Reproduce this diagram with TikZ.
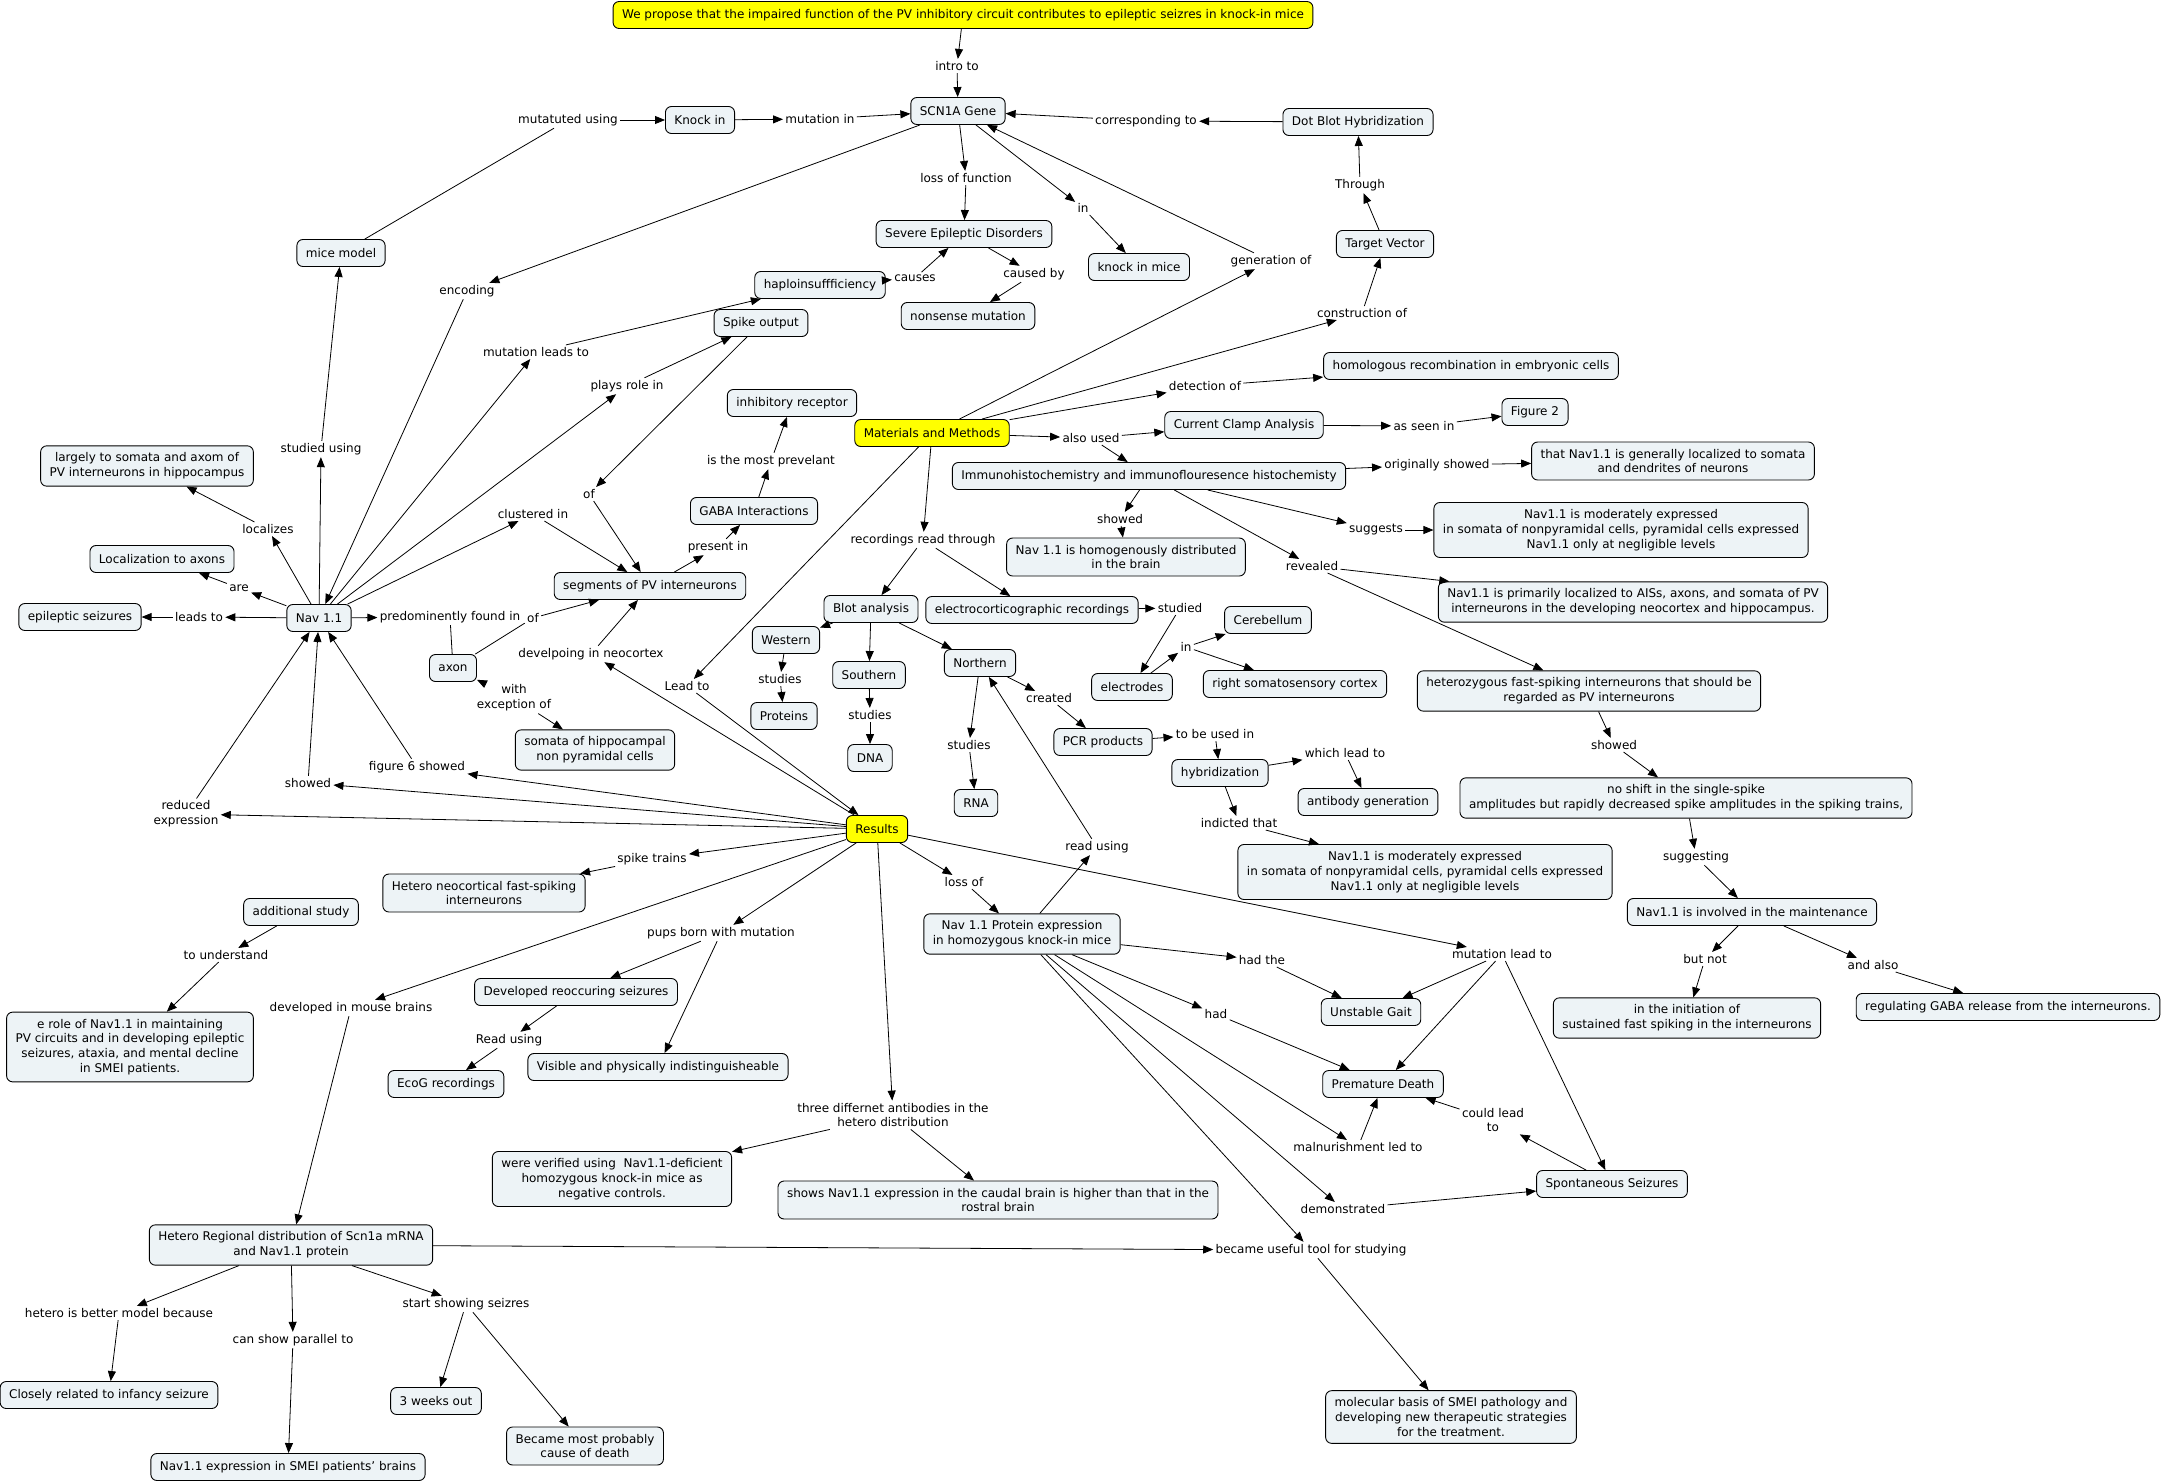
\documentclass[tikz,border=0pt]{standalone}
\usepackage{fontspec}
\setmainfont{DejaVu Sans}
\usetikzlibrary{arrows.meta}
\definecolor{cfill}{RGB}{237,243,246}
\definecolor{hlyel}{RGB}{255,255,0}

\begin{document}
\begin{tikzpicture}[x=1pt,y=-1pt,line width=0.8pt,
    font=\fontsize{12}{14.7}\selectfont,
    >={Triangle[length=10pt,width=8pt]},
    cpt/.style={draw,line width=0.9pt,rounded corners=6pt,fill=cfill,align=center,inner xsep=9pt,inner ysep=7pt,minimum height=27pt},
    hl/.style={cpt,fill=hlyel},
    lk/.style={inner sep=2pt,align=center}]
  \useasboundingbox (0,0) rectangle (2162,1483);
  % concepts
  \node[hl] (Title) at (963,15) {We propose that the impaired function of the PV inhibitory circuit contributes to epileptic seizres in knock-in mice};
  \node[cpt] (Scn) at (958,111) {SCN1A Gene};
  \node[cpt] (Knock) at (700,120) {Knock in};
  \node[cpt] (Mice) at (341,253) {mice model};
  \node[cpt] (Sev) at (964,234) {Severe Epileptic Disorders};
  \node[cpt] (Haplo) at (820,285) {haploinsuffficiency};
  \node[cpt] (Nons) at (968,316) {nonsense mutation};
  \node[cpt] (Spike) at (761,323) {Spike output};
  \node[cpt] (KiMice) at (1139,267) {knock in mice};
  \node[cpt] (Dot) at (1358,122) {Dot Blot Hybridization};
  \node[cpt] (Target) at (1385,244) {Target Vector};
  \node[cpt] (Homol) at (1471,366) {homologous recombination in embryonic cells};
  \node[cpt] (Fig2) at (1535,412) {Figure 2};
  \node[cpt] (Clamp) at (1244,425) {Current Clamp Analysis};
  \node[hl] (MM) at (932,433) {Materials and Methods};
  \node[cpt] (Inhib) at (792,403) {inhibitory receptor};
  \node[cpt] (Largely) at (147,466) {largely to somata and axom of\\PV interneurons in hippocampus};
  \node[cpt] (Immuno) at (1149,476) {Immunohistochemistry and immunoflouresence histochemisty};
  \node[cpt] (General) at (1673,461) {that Nav1.1 is generally localized to somata\\and dendrites of neurons};
  \node[cpt] (ModUp) at (1621,530) {Nav1.1 is moderately expressed\\in somata of nonpyramidal cells, pyramidal cells expressed\\Nav1.1 only at negligible levels};
  \node[cpt] (Homog) at (1126,557) {Nav 1.1 is homogenously distributed\\in the brain};
  \node[cpt] (Prim) at (1633,602) {Nav1.1 is primarily localized to AISs, axons, and somata of PV\\interneurons in the developing neocortex and hippocampus.};
  \node[cpt] (GABA) at (754,511) {GABA Interactions};
  \node[cpt] (Segm) at (650,586) {segments of PV interneurons};
  \node[cpt] (LocAx) at (162,559) {Localization to axons};
  \node[cpt] (EpSz) at (80,617) {epileptic seizures};
  \node[cpt] (Nav) at (319,618) {Nav 1.1};
  \node[cpt] (Blot) at (871,609) {Blot analysis};
  \node[cpt] (Ecr) at (1032,610) {electrocorticographic recordings};
  \node[cpt] (Cereb) at (1268,620) {Cerebellum};
  \node[cpt] (Western) at (786,640) {Western};
  \node[cpt] (Northern) at (980,663) {Northern};
  \node[cpt] (Southern) at (869,675) {Southern};
  \node[cpt] (Axon) at (453,668) {axon};
  \node[cpt] (Rsc) at (1295,684) {right somatosensory cortex};
  \node[cpt] (Electr) at (1132,687) {electrodes};
  \node[cpt] (Hetfs) at (1589,691) {heterozygous fast-spiking interneurons that should be\\regarded as PV interneurons};
  \node[cpt] (Prot) at (784,716) {Proteins};
  \node[cpt] (PCR) at (1103,742) {PCR products};
  \node[cpt] (SomH) at (595,750) {somata of hippocampal\\non pyramidal cells};
  \node[cpt] (DNA) at (870,758) {DNA};
  \node[cpt] (Hybr) at (1220,773) {hybridization};
  \node[cpt] (NoShift) at (1686,798) {no shift in the single-spike\\amplitudes but rapidly decreased spike amplitudes in the spiking trains,};
  \node[cpt] (RNA) at (976,803) {RNA};
  \node[cpt] (Antib) at (1368,802) {antibody generation};
  \node[hl] (Res) at (877,829) {Results};
  \node[cpt] (ModLo) at (1425,872) {Nav1.1 is moderately expressed\\in somata of nonpyramidal cells, pyramidal cells expressed\\Nav1.1 only at negligible levels};
  \node[cpt] (HetNeo) at (484,893) {Hetero neocortical fast-spiking\\interneurons};
  \node[cpt] (AddSt) at (301,912) {additional study};
  \node[cpt] (NavInv) at (1752,912) {Nav1.1 is involved in the maintenance};
  \node[cpt] (NavProt) at (1022,934) {Nav 1.1 Protein expression\\in homozygous knock-in mice};
  \node[cpt] (DevSz) at (576,992) {Developed reoccuring seizures};
  \node[cpt] (Regul) at (2008,1007) {regulating GABA release from the interneurons.};
  \node[cpt] (Gait) at (1371,1012) {Unstable Gait};
  \node[cpt] (Init) at (1687,1018) {in the initiation of\\sustained fast spiking in the interneurons};
  \node[cpt] (Erole) at (130,1047) {e role of Nav1.1 in maintaining\\PV circuits and in developing epileptic\\seizures, ataxia, and mental decline\\in SMEI patients.};
  \node[cpt] (Visib) at (658,1067) {Visible and physically indistinguisheable};
  \node[cpt] (EcoG) at (446,1084) {EcoG recordings};
  \node[cpt] (Death) at (1383,1084) {Premature Death};
  \node[cpt] (Verif) at (612,1179) {were verified using\ \ Nav1.1-deficient\\homozygous knock-in mice as\\negative controls.};
  \node[cpt] (Spont) at (1612,1184) {Spontaneous Seizures};
  \node[cpt] (Caudal) at (998,1200) {shows Nav1.1 expression in the caudal brain is higher than that in the\\rostral brain};
  \node[cpt] (Region) at (291,1245) {Hetero Regional distribution of Scn1a mRNA\\and Nav1.1 protein};
  \node[cpt] (Closely) at (109,1395) {Closely related to infancy seizure};
  \node[cpt] (Weeks) at (436,1401) {3 weeks out};
  \node[cpt] (Molec) at (1451,1417) {molecular basis of SMEI pathology and\\developing new therapeutic strategies\\for the treatment.};
  \node[cpt] (Became) at (585,1446) {Became most probably\\cause of death};
  \node[cpt] (Smei) at (288,1467) {Nav1.1 expression in SMEI patients’ brains};
  % linking phrases
  \node[lk] (intro) at (957,66) {intro to};
  \node[lk] (mutusing) at (568,120) {mutatuted using};
  \node[lk] (mutin) at (820,119) {mutation in};
  \node[lk] (corr) at (1146,121) {corresponding to};
  \node[lk] (lossfn) at (966,178) {loss of function};
  \node[lk] (through) at (1360,185) {Through};
  \node[lk] (inki) at (1083,208) {in};
  \node[lk] (gen) at (1271,261) {generation of};
  \node[lk] (causes) at (915,278) {causes};
  \node[lk] (causedby) at (1034,274) {caused by};
  \node[lk] (enc) at (467,291) {encoding};
  \node[lk] (constr) at (1362,313) {construction of};
  \node[lk] (mutleads) at (536,352) {mutation leads to};
  \node[lk] (plays) at (627,386) {plays role in};
  \node[lk] (detect) at (1205,386) {detection of};
  \node[lk] (seen) at (1424,426) {as seen in};
  \node[lk] (also) at (1091,438) {also used};
  \node[lk] (studusing) at (321,449) {studied using};
  \node[lk] (prev) at (771,461) {is the most prevelant};
  \node[lk] (orig) at (1437,465) {originally showed};
  \node[lk] (ofspike) at (589,494) {of};
  \node[lk] (clust) at (533,514) {clustered in};
  \node[lk] (showim) at (1120,519) {showed};
  \node[lk] (sugg) at (1376,530) {suggests};
  \node[lk] (loc) at (268,529) {localizes};
  \node[lk] (rec) at (923,540) {recordings read through};
  \node[lk] (pres) at (718,547) {present in};
  \node[lk] (rev) at (1312,566) {revealed};
  \node[lk] (are) at (239,588) {are};
  \node[lk] (studied) at (1180,608) {studied};
  \node[lk] (leads) at (199,617) {leads to};
  \node[lk] (pred) at (450,617) {predominently found in};
  \node[lk] (ofaxon) at (533,618) {of};
  \node[lk] (inel) at (1186,647) {in};
  \node[lk] (devneo) at (591,654) {develpoing in neocortex};
  \node[lk] (studw) at (780,679) {studies};
  \node[lk] (leadto) at (687,686) {Lead to};
  \node[lk] (exc) at (514,698) {with\\exception of};
  \node[lk] (created) at (1049,698) {created};
  \node[lk] (studs) at (870,715) {studies};
  \node[lk] (tobe) at (1215,734) {to be used in};
  \node[lk] (studn) at (969,745) {studies};
  \node[lk] (showhet) at (1614,745) {showed};
  \node[lk] (which) at (1345,753) {which lead to};
  \node[lk] (fig6) at (417,767) {figure 6 showed};
  \node[lk] (showres) at (308,783) {showed};
  \node[lk] (reduced) at (186,814) {reduced\\expression};
  \node[lk] (indic) at (1239,823) {indicted that};
  \node[lk] (readnp) at (1097,847) {read using};
  \node[lk] (sugging) at (1696,857) {suggesting};
  \node[lk] (trains) at (652,859) {spike trains};
  \node[lk] (lossof) at (964,882) {loss of};
  \node[lk] (pups) at (721,933) {pups born with mutation};
  \node[lk] (mutlead) at (1502,954) {mutation lead to};
  \node[lk] (under) at (226,955) {to understand};
  \node[lk] (butnot) at (1705,959) {but not};
  \node[lk] (hadthe) at (1262,960) {had the};
  \node[lk] (andalso) at (1873,965) {and also};
  \node[lk] (devmouse) at (351,1008) {developed in mouse brains};
  \node[lk] (had) at (1216,1014) {had};
  \node[lk] (readecog) at (509,1040) {Read using};
  \node[lk] (three) at (893,1115) {three differnet antibodies in the\\hetero distribution};
  \node[lk] (could) at (1493,1120) {could lead\\to};
  \node[lk] (maln) at (1358,1147) {malnurishment led to};
  \node[lk] (demo) at (1343,1209) {demonstrated};
  \node[lk] (useful) at (1311,1250) {became useful tool for studying};
  \node[lk] (seizr) at (466,1304) {start showing seizres};
  \node[lk] (better) at (119,1313) {hetero is better model because};
  \node[lk] (paral) at (293,1340) {can show parallel to};
  % connectors
  \draw[->] (Title) -- (intro);
  \draw[->] (intro) -- (Scn);
  \draw (Mice) -- (mutusing);
  \draw[->] (mutusing) -- (Knock);
  \draw[->] (Knock) -- (mutin);
  \draw[->] (mutin) -- (Scn);
  \draw[->] (Scn) -- (enc);
  \draw[->] (enc) -- (Nav);
  \draw[->] (Scn) -- (lossfn);
  \draw[->] (lossfn) -- (Sev);
  \draw[->] (Scn) -- (inki);
  \draw[->] (inki) -- (KiMice);
  \draw[->] (MM) -- (gen);
  \draw[->] (gen) -- (Scn);
  \draw[->] (Dot) -- (corr);
  \draw[->] (corr) -- (Scn);
  \draw[->] (Target) -- (through);
  \draw[->] (through) -- (Dot);
  \draw[->] (MM) -- (constr);
  \draw[->] (constr) -- (Target);
  \draw[->] (MM) -- (detect);
  \draw[->] (detect) -- (Homol);
  \draw[->] (MM) -- (also);
  \draw[->] (also) -- (Clamp);
  \draw[->] (also) -- (Immuno);
  \draw[->] (Clamp) -- (seen);
  \draw[->] (seen) -- (Fig2);
  \draw[->] (Immuno) -- (orig);
  \draw[->] (orig) -- (General);
  \draw[->] (Immuno) -- (showim);
  \draw[->] (showim) -- (Homog);
  \draw[->] (Immuno) -- (sugg);
  \draw[->] (sugg) -- (ModUp);
  \draw[->] (Immuno) -- (rev);
  \draw[->] (rev) -- (Prim);
  \draw[->] (rev) -- (Hetfs);
  \draw[->] (Hetfs) -- (showhet);
  \draw[->] (showhet) -- (NoShift);
  \draw[->] (NoShift) -- (sugging);
  \draw[->] (sugging) -- (NavInv);
  \draw[->] (NavInv) -- (butnot);
  \draw[->] (butnot) -- (Init);
  \draw[->] (NavInv) -- (andalso);
  \draw[->] (andalso) -- (Regul);
  \draw[->] (Sev) -- (causedby);
  \draw[->] (causedby) -- (Nons);
  \draw[->] (Haplo) -- (causes);
  \draw[->] (causes) -- (Sev);
  \draw[->] (Nav) -- (mutleads);
  \draw[->] (mutleads) -- (Haplo);
  \draw[->] (Nav) -- (plays);
  \draw[->] (plays) -- (Spike);
  \draw[->] (Spike) -- (ofspike);
  \draw[->] (ofspike) -- (Segm);
  \draw[->] (GABA) -- (prev);
  \draw[->] (prev) -- (Inhib);
  \draw[->] (Segm) -- (pres);
  \draw[->] (pres) -- (GABA);
  \draw[->] (Nav) -- (clust);
  \draw[->] (clust) -- (Segm);
  \draw[->] (Nav) -- (loc);
  \draw[->] (loc) -- (Largely);
  \draw[->] (Nav) -- (are);
  \draw[->] (are) -- (LocAx);
  \draw[->] (Nav) -- (leads);
  \draw[->] (leads) -- (EpSz);
  \draw[->] (Nav) -- (pred);
  \draw (pred) -- (Axon);
  \draw (Axon) -- (ofaxon);
  \draw[->] (ofaxon) -- (Segm);
  \draw[->] (exc) -- (Axon);
  \draw[->] (exc) -- (SomH);
  \draw[->] (Nav) -- (studusing);
  \draw[->] (studusing) -- (Mice);
  \draw[->] (MM) -- (leadto);
  \draw[->] (leadto) -- (Res);
  \draw[->] (Res) -- (devneo);
  \draw[->] (devneo) -- (Segm);
  \draw[->] (Res) -- (fig6);
  \draw[->] (fig6) -- (Nav);
  \draw[->] (Res) -- (showres);
  \draw[->] (showres) -- (Nav);
  \draw[->] (Res) -- (reduced);
  \draw[->] (reduced) -- (Nav);
  \draw[->] (Res) -- (trains);
  \draw[->] (trains) -- (HetNeo);
  \draw[->] (Res) -- (devmouse);
  \draw[->] (devmouse) -- (Region);
  \draw[->] (Res) -- (pups);
  \draw[->] (pups) -- (DevSz);
  \draw[->] (pups) -- (Visib);
  \draw[->] (DevSz) -- (readecog);
  \draw[->] (readecog) -- (EcoG);
  \draw[->] (AddSt) -- (under);
  \draw[->] (under) -- (Erole);
  \draw[->] (Res) -- (three);
  \draw[->] (three) -- (Verif);
  \draw[->] (three) -- (Caudal);
  \draw[->] (Res) -- (lossof);
  \draw[->] (lossof) -- (NavProt);
  \draw[->] (Res) -- (mutlead);
  \draw[->] (mutlead) -- (Gait);
  \draw[->] (mutlead) -- (Death);
  \draw[->] (mutlead) -- (Spont);
  \draw[->] (NavProt) -- (readnp);
  \draw[->] (readnp) -- (Northern);
  \draw[->] (NavProt) -- (hadthe);
  \draw[->] (hadthe) -- (Gait);
  \draw[->] (NavProt) -- (had);
  \draw[->] (had) -- (Death);
  \draw[->] (NavProt) -- (maln);
  \draw[->] (maln) -- (Death);
  \draw[->] (NavProt) -- (demo);
  \draw[->] (demo) -- (Spont);
  \draw[->] (NavProt) -- (useful);
  \draw[->] (Region) -- (useful);
  \draw[->] (useful) -- (Molec);
  \draw[->] (Spont) -- (could);
  \draw[->] (could) -- (Death);
  \draw[->] (Region) -- (better);
  \draw[->] (better) -- (Closely);
  \draw[->] (Region) -- (paral);
  \draw[->] (paral) -- (Smei);
  \draw[->] (Region) -- (seizr);
  \draw[->] (seizr) -- (Weeks);
  \draw[->] (seizr) -- (Became);
  \draw[->] (MM) -- (rec);
  \draw[->] (rec) -- (Blot);
  \draw[->] (rec) -- (Ecr);
  \draw[->] (Blot) -- (Western);
  \draw[->] (Blot) -- (Southern);
  \draw[->] (Blot) -- (Northern);
  \draw[->] (Western) -- (studw);
  \draw[->] (studw) -- (Prot);
  \draw[->] (Southern) -- (studs);
  \draw[->] (studs) -- (DNA);
  \draw[->] (Northern) -- (studn);
  \draw[->] (studn) -- (RNA);
  \draw[->] (Northern) -- (created);
  \draw[->] (created) -- (PCR);
  \draw[->] (PCR) -- (tobe);
  \draw[->] (tobe) -- (Hybr);
  \draw[->] (Hybr) -- (which);
  \draw[->] (which) -- (Antib);
  \draw[->] (Hybr) -- (indic);
  \draw[->] (indic) -- (ModLo);
  \draw[->] (Ecr) -- (studied);
  \draw[->] (studied) -- (Electr);
  \draw[->] (Electr) -- (inel);
  \draw[->] (inel) -- (Cereb);
  \draw[->] (inel) -- (Rsc);
\end{tikzpicture}
\end{document}
